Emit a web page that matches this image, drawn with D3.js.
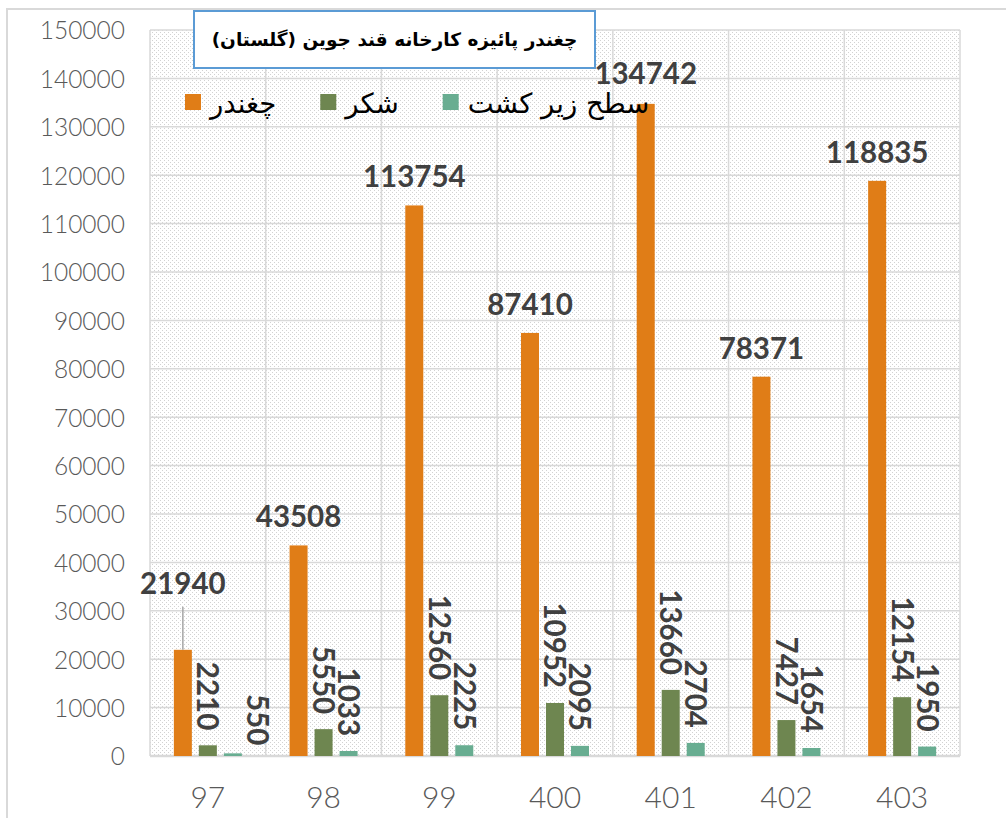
<!DOCTYPE html>
<html><head><meta charset="utf-8">
<script src="https://cdn.jsdelivr.net/npm/d3@7"></script>
<style>
html,body{margin:0;padding:0;background:#fff;}
svg{display:block;}
</style></head>
<body>
<svg id="chart" width="1006" height="818"></svg>
<script>
// ---- data ----
const categories = ["97", "98", "99", "400", "401", "402", "403"];
const beet = [21940, 43508, 113754, 87410, 134742, 78371, 118835];   // چغندر
const sugar = [2210, 5550, 12560, 10952, 13660, 7427, 12154];       // شکر
const area = [550, 1033, 2225, 2095, 2704, 1654, 1950];             // سطح زیر کشت
const seriesNames = ["چغندر", "شکر", "سطح زیر کشت"];
const yTicks = [0, 10000, 20000, 30000, 40000, 50000, 60000, 70000, 80000, 90000, 100000, 110000, 120000, 130000, 140000, 150000];
const titleText = "چغندر پائیزه کارخانه قند جوین (گلستان)";

const colors = ["#E07D17", "#6E8650", "#68AD91"];
const series = [beet, sugar, area];

const svg = d3.select("#chart");
const W = 1006, H = 818;
const plot = {left: 150, right: 960, top: 30, bottom: 756};
const latin = "'Century Gothic', Lato, 'Open Sans', sans-serif";
const arabic = "'DejaVu Sans', sans-serif";

// pattern
const defs = svg.append("defs");
const pat = defs.append("pattern").attr("id", "hatch").attr("patternUnits", "userSpaceOnUse")
  .attr("width", 8).attr("height", 8);
pat.append("rect").attr("width", 8).attr("height", 8).attr("fill", "#ffffff");
[[0,0],[2,2],[4,4],[6,6],[4,0],[6,2],[0,4],[2,6]].forEach(([x,y]) => {
  pat.append("rect").attr("x", x).attr("y", y).attr("width", 1).attr("height", 1).attr("fill", "#d2d2d2");
});

// outer chart frame
svg.append("rect").attr("x", 7).attr("y", 9).attr("width", W + 20).attr("height", H + 20)
  .attr("fill", "#fff").attr("stroke", "#d9d9d9").attr("stroke-width", 2);

const x0 = d3.scaleBand().domain(categories).range([plot.left, plot.right]).paddingInner(0).paddingOuter(0);
const barW = 18, barGap = 7;
const y = d3.scaleLinear().domain([0, 150000]).range([plot.bottom, plot.top]);

// plot background
svg.append("rect").attr("x", plot.left).attr("y", plot.top)
  .attr("width", plot.right - plot.left).attr("height", plot.bottom - plot.top)
  .attr("fill", "url(#hatch)");

// gridlines
const grid = svg.append("g");
grid.selectAll("line.h").data(yTicks).join("line")
  .attr("x1", plot.left).attr("x2", plot.right)
  .attr("y1", d => y(d)).attr("y2", d => y(d))
  .attr("stroke", "#d9d9d9").attr("stroke-width", 1.5);
const bounds = categories.map(c => x0(c)).concat([plot.right]);
grid.selectAll("line.v").data(bounds).join("line")
  .attr("x1", d => d).attr("x2", d => d)
  .attr("y1", plot.top).attr("y2", plot.bottom)
  .attr("stroke", "#d9d9d9").attr("stroke-width", 1.5);
svg.append("line").attr("x1", plot.left).attr("x2", plot.right)
  .attr("y1", plot.bottom).attr("y2", plot.bottom)
  .attr("stroke", "#d9d9d9").attr("stroke-width", 2.5);

// y axis labels
const yAxis = d3.axisLeft(y).tickValues(yTicks).tickSize(0).tickPadding(0).tickFormat(d3.format("d"));
const ya = svg.append("g").attr("transform", `translate(125,0)`).call(yAxis);
ya.select(".domain").remove();
ya.selectAll("text").attr("fill", "#595959").style("font-family", latin).style("font-size", "24.5px")
  .style("font-weight", "300").attr("dy", "0.36em");

// x axis labels
const xAxis = d3.axisBottom(x0).tickSize(0).tickPadding(0);
const xa = svg.append("g").attr("transform", `translate(0,797)`).call(xAxis);
xa.select(".domain").remove();
xa.selectAll("text").attr("fill", "#595959").style("font-family", latin).style("font-size", "30px")
  .style("font-weight", "300").attr("dy", "0.36em");

function barX(ci, si) {
  const cx = x0(categories[ci]) + x0.bandwidth() / 2;
  return cx + (si - 1) * (barW + barGap) - barW / 2;
}

// bars
series.forEach((vals, si) => {
  svg.append("g").selectAll("rect").data(vals).join("rect")
    .attr("x", (d, i) => barX(i, si))
    .attr("y", d => y(d))
    .attr("width", barW)
    .attr("height", d => plot.bottom - y(d))
    .attr("fill", colors[si]);
});

// title box
svg.append("rect").attr("x", 194).attr("y", 11).attr("width", 401).attr("height", 57)
  .attr("fill", "#fff").attr("stroke", "#5B9BD5").attr("stroke-width", 2);
svg.append("text").attr("x", 394.5).attr("y", 40).attr("dy", "0.35em")
  .attr("text-anchor", "middle").attr("fill", "#000")
  .style("font-family", arabic).style("font-size", "18.5px").style("font-weight", "bold")
  .text(titleText);

// legend
const leg = svg.append("g");
let lx = 185;
seriesNames.forEach((name, si) => {
  leg.append("rect").attr("x", lx).attr("y", 94).attr("width", 16).attr("height", 16).attr("fill", colors[si]);
  const t = leg.append("text").attr("x", lx + 16 + 9).attr("y", 113)
    .attr("fill", "#000").style("font-family", arabic).style("font-size", "27.5px")
    .text(name);
  const w = t.node().getComputedTextLength();
  lx = lx + 16 + 9 + w + 44;
});

// beet labels (horizontal, above)
const labelStyle = sel => sel.attr("fill", "#404040").style("font-family", latin)
  .style("font-size", "29.5px").style("font-weight", "bold");
beet.forEach((v, i) => {
  const cx = barX(i, 0) + barW / 2;
  let by = y(v) - 18;
  if (i === 0) {
    by = y(v) - 56;
    svg.append("line").attr("x1", cx).attr("x2", cx)
      .attr("y1", by + 13).attr("y2", y(v))
      .attr("stroke", "#a6a6a6").attr("stroke-width", 1.5);
  }
  if (i === 4) by = y(v) - 20;
  svg.append("text").attr("x", cx).attr("y", by).attr("text-anchor", "middle")
    .call(labelStyle).text(v);
});

// sugar & area labels (rotated)
[sugar, area].forEach((vals, k) => {
  const si = k + 1;
  vals.forEach((v, i) => {
    let cx = barX(i, si) + barW / 2;
    let ey = y(v) - 15;
    if (si === 2 && i === 0) { cx += 25; ey = y(v) - 8; }
    svg.append("text")
      .attr("transform", `translate(${cx},${ey}) rotate(90)`)
      .attr("text-anchor", "end").attr("dy", "0.36em")
      .call(labelStyle).text(v);
  });
});
</script>
</body></html>
